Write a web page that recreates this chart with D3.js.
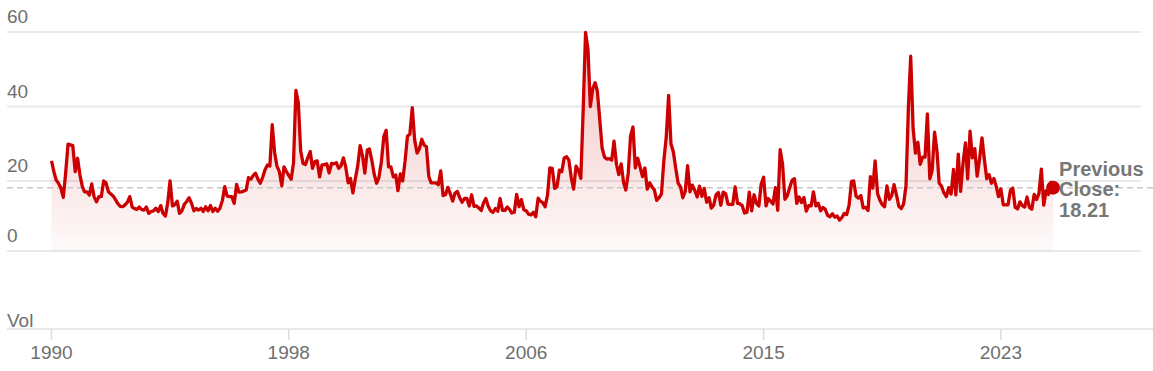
<!DOCTYPE html>
<html>
<head>
<meta charset="utf-8">
<script src="https://cdn.jsdelivr.net/npm/d3@7"></script>
<style>
  html, body { margin: 0; padding: 0; background: #fff; }
  svg { display: block; font-family: "Liberation Sans", Arial, sans-serif; }
</style>
</head>
<body>
<div id="container"></div>
<script>
// monthly closes, first value is Jan 1990
const startYear = 1990
const vix1990s = [
  25.4, 22.5, 20.3, 19.4, 18.1, 15.6, 22.0, 29.9, 29.7, 29.5, 22.5, 26.1,
  21.6, 18.5, 17.1, 17.1, 16.2, 19.2, 15.8, 14.4, 15.8, 15.8, 20.0, 19.5,
  17.1, 16.5, 16.0, 15.0, 13.9, 13.2, 13.1, 13.6, 14.3, 15.8, 13.0, 12.6,
  12.4, 13.0, 12.4, 12.2, 13.0, 11.3, 11.8, 12.0, 12.7, 11.8, 13.4, 11.3,
  10.6, 14.4, 20.0, 13.3, 13.6, 14.6, 11.3, 12.0, 13.8, 14.5, 15.5, 14.0,
  12.0, 12.6, 12.2, 12.7, 11.8, 13.1, 12.0, 13.4, 11.8, 12.7, 11.9, 12.7,
  14.8, 18.5, 16.0, 15.8, 15.8, 14.0, 19.1, 17.0, 17.1, 17.3, 17.6, 20.9,
  20.5, 21.5, 22.1, 20.5, 19.4, 21.0, 23.0, 24.3, 24.0, 35.1, 27.6, 24.0,
  22.5, 18.7, 23.8, 22.5, 21.5, 20.5, 24.8, 44.3, 41.0, 28.1, 24.7, 24.4,
  26.3, 27.9, 23.4, 25.2, 25.4, 21.1, 24.3, 24.4, 24.6, 22.2, 24.7, 24.6
]
const vix2000s = [
  24.9, 23.4, 24.1, 26.2, 23.7, 19.5, 20.7, 16.8, 20.6, 24.0, 29.5, 26.9,
  22.1, 28.3, 28.6, 25.5, 21.8, 19.4, 21.0, 25.2, 31.9, 33.6, 23.8, 23.8,
  21.1, 21.6, 17.4, 21.9, 20.0, 25.4, 32.0, 32.6, 39.7, 31.1, 27.5, 28.6,
  31.2, 29.6, 29.2, 21.2, 19.5, 19.5, 19.5, 19.0, 22.7, 16.1, 16.3, 18.3,
  16.6, 14.6, 16.7, 17.2, 15.5, 14.3, 15.3, 15.3, 13.3, 16.3, 13.2, 13.3,
  12.8, 12.1, 14.0, 15.3, 13.3, 12.0, 11.6, 12.6, 11.9, 15.3, 12.1, 12.1,
  13.0, 12.3, 11.4, 11.6, 16.4, 13.1, 15.0, 12.3, 12.0, 11.1, 10.9, 11.6,
  10.4, 15.4, 14.6, 14.2, 13.1, 16.2, 23.5, 23.4, 18.0, 18.5, 22.9, 22.5,
  26.2, 26.5, 25.6, 20.8, 17.8, 24.0, 22.9, 20.7, 39.4, 59.9, 55.3, 40.0,
  44.8, 46.4, 44.1, 36.5, 28.9, 26.4, 25.9, 26.0, 25.6, 30.7, 24.5, 21.7
]
const vix2010s = [
  24.6, 19.5, 17.6, 22.1, 32.1, 34.5, 23.5, 26.1, 23.7, 21.2, 23.5, 17.8,
  19.5, 18.4, 17.7, 14.8, 15.5, 16.5, 25.3, 31.6, 43.0, 30.0, 27.8, 23.4,
  19.4, 18.4, 15.5, 17.2, 24.1, 17.1, 18.9, 17.5, 15.7, 18.6, 15.9, 18.0,
  14.3, 15.5, 12.7, 13.5, 16.3, 16.9, 13.5, 17.0, 16.6, 13.8, 13.7, 13.7,
  18.4, 14.0, 13.9, 13.4, 11.4, 11.6, 17.0, 12.0, 16.3, 14.0, 13.3, 19.2,
  21.0, 13.3, 15.3, 14.6, 13.8, 18.2, 12.1, 28.4, 24.5, 15.1, 16.1, 18.2,
  20.2, 20.6, 14.0, 15.7, 14.2, 15.6, 11.9, 13.4, 13.3, 17.1, 13.3, 14.0,
  12.0, 12.9, 12.4, 10.8, 10.4, 11.2, 10.3, 10.6, 9.5, 10.2, 11.3, 11.0,
  13.5, 19.9, 20.0, 15.9, 15.4, 16.1, 12.8, 12.9, 12.1, 21.2, 18.1, 25.4,
  16.6, 14.8, 13.7, 13.1, 18.7, 15.1, 16.1, 19.0, 16.2, 13.2, 12.6, 13.8
]
const vix2020s = [
  18.8, 40.1, 53.5, 34.2, 27.5, 30.4, 24.5, 26.4, 26.4, 38.0, 20.6, 22.8,
  33.1, 28.0, 19.4, 18.6, 16.8, 15.8, 18.2, 16.5, 23.1, 16.3, 27.2, 17.2,
  24.8, 30.2, 20.6, 33.4, 26.2, 28.7, 21.3, 25.9, 31.6, 25.9, 20.6, 21.7,
  19.4, 20.7, 18.7, 15.8, 17.9, 13.6, 13.6, 13.6, 17.5, 18.1, 12.9, 12.5,
  14.4, 13.4, 13.0, 15.7, 12.9, 12.4, 16.4, 15.0, 16.7, 23.2, 13.5, 17.4,
  16.4, 19.6, 18.21
]
const previousClose = 18.21
const yTicks = [0, 20, 40, 60]
const xTickLabels = ["1990", "1998", "2006", "2015", "2023"]

const width = 1153, height = 371
const plotTop = 32, plotBottom = 251, volLine = 329
const gridLeft = 7, gridRight = 1141

const data = vix1990s.concat(vix2000s, vix2010s, vix2020s).map((v, i) => ({
  date: new Date(startYear, i, 1),
  value: v
}))

// one tick every 100 months
const xTicks = xTickLabels.map((d, i) => new Date(startYear, i * 100, 1))

const x = d3.scaleTime()
  .domain([new Date(startYear, 0, 1), new Date(2028, 3, 1)])
  .range([51.5, gridRight])

const y = d3.scaleLinear()
  .domain([0, 60])
  .range([255.5, plotTop])

const yPos = v => Math.min(y(v), plotBottom)

const svg = d3.select("#container").append("svg")
  .attr("width", width)
  .attr("height", height)

const defs = svg.append("defs")
const grad = defs.append("linearGradient")
  .attr("id", "areaFill")
  .attr("gradientUnits", "userSpaceOnUse")
  .attr("x1", 0).attr("x2", 0)
  .attr("y1", plotTop).attr("y2", plotBottom)
grad.append("stop").attr("offset", "0%").attr("stop-color", "#cc0000").attr("stop-opacity", 0.25)
grad.append("stop").attr("offset", "100%").attr("stop-color", "#cc0000").attr("stop-opacity", 0.02)

// horizontal grid
svg.append("g").selectAll("line")
  .data(yTicks)
  .join("line")
    .attr("x1", gridLeft)
    .attr("x2", gridRight)
    .attr("y1", d => yPos(d))
    .attr("y2", d => yPos(d))
    .attr("stroke", "#e8e8e8")
    .attr("stroke-width", 2)

svg.append("g").selectAll("text")
  .data(yTicks)
  .join("text")
    .attr("x", gridLeft)
    .attr("y", d => yPos(d) - 9)
    .attr("fill", "#6f6f6f")
    .style("font-size", "19px")
    .text(d => d)

// volume panel baseline
svg.append("line")
  .attr("x1", gridLeft).attr("x2", width)
  .attr("y1", volLine).attr("y2", volLine)
  .attr("stroke", "#e8e8e8")
  .attr("stroke-width", 2)

svg.append("text")
  .attr("x", gridLeft)
  .attr("y", volLine - 2)
  .attr("fill", "#6f6f6f")
  .style("font-size", "19px")
  .text("Vol")

// x axis
const xAxis = svg.append("g").attr("transform", `translate(0, ${volLine})`)
xAxis.selectAll("line")
  .data(xTicks)
  .join("line")
    .attr("x1", d => x(d)).attr("x2", d => x(d))
    .attr("y1", 0).attr("y2", 11)
    .attr("stroke", "#dcdcdc")
    .attr("stroke-width", 1.5)
xAxis.selectAll("text")
  .data(xTicks)
  .join("text")
    .attr("x", d => x(d))
    .attr("y", 30)
    .attr("text-anchor", "middle")
    .attr("fill", "#6f6f6f")
    .style("font-size", "19px")
    .text((d, i) => xTickLabels[i])

// area + line
const area = d3.area()
  .x(d => x(d.date))
  .y0(plotBottom)
  .y1(d => y(d.value))

const line = d3.line()
  .x(d => x(d.date))
  .y(d => y(d.value))

svg.append("path")
  .datum(data)
  .attr("fill", "url(#areaFill)")
  .attr("d", area)

// previous close reference
svg.append("line")
  .attr("x1", gridLeft).attr("x2", width)
  .attr("y1", y(previousClose)).attr("y2", y(previousClose))
  .attr("stroke", "#c8c8c8")
  .attr("stroke-width", 1.5)
  .attr("stroke-dasharray", "6,4")

svg.append("path")
  .datum(data)
  .attr("fill", "none")
  .attr("stroke", "#cc0000")
  .attr("stroke-width", 3.3)
  .attr("stroke-linejoin", "round")
  .attr("d", line)

const last = data[data.length - 1]
svg.append("circle")
  .attr("cx", x(last.date))
  .attr("cy", y(last.value))
  .attr("r", 7)
  .attr("fill", "#cc0000")

const label = svg.append("text")
  .attr("x", x(last.date) + 6)
  .attr("y", y(previousClose) - 12)
  .attr("fill", "#777")
  .style("font-size", "20px")
  .style("font-weight", "bold")
label.append("tspan").text("Previous")
label.append("tspan").attr("x", x(last.date) + 6).attr("dy", 20.5).text("Close:")
label.append("tspan").attr("x", x(last.date) + 6).attr("dy", 20.5).text(previousClose.toFixed(2))
</script>
</body>
</html>
